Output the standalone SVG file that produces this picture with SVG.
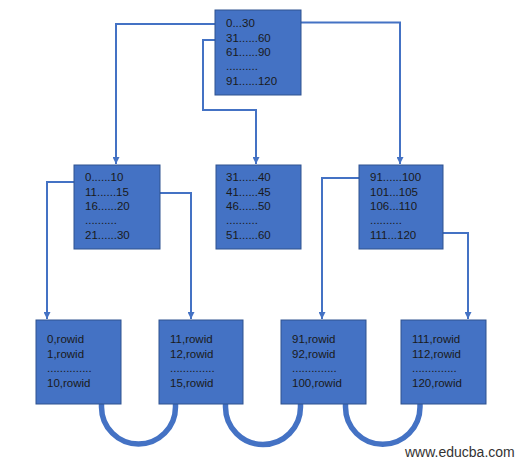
<svg xmlns="http://www.w3.org/2000/svg" width="528" height="466" viewBox="0 0 528 466">
<style>
.box{fill:#4472C4;stroke:#2F528F;stroke-width:1}
.t{font-family:"Liberation Sans",Arial,sans-serif;font-size:11.5px;fill:#1a1a1a}
.c{fill:none;stroke:#4472C4;stroke-width:2}
.arc{fill:none;stroke:#4472C4;stroke-width:5.5}
.wm{font-family:"Liberation Sans",Arial,sans-serif;font-size:14px;fill:#333}
</style>
<defs>
<marker id="ah" viewBox="0 0 6 6" refX="6" refY="3" markerWidth="3.5" markerHeight="3.5" orient="auto" markerUnits="strokeWidth">
<path d="M0,0 L6,3 L0,6 z" fill="#4472C4"/>
</marker>
</defs>
<g id="connectors">
<path class="c" d="M215,24 H116 V164" marker-end="url(#ah)"/>
<path class="c" d="M215,40 H203 V110 H256 V164" marker-end="url(#ah)"/>
<path class="c" d="M301,22.5 H400 V164" marker-end="url(#ah)"/>
<path class="c" d="M74,182 H47 V319" marker-end="url(#ah)"/>
<path class="c" d="M160,193 H191 V319" marker-end="url(#ah)"/>
<path class="c" d="M359,178 H322 V319" marker-end="url(#ah)"/>
<path class="c" d="M443,233 H468 V319" marker-end="url(#ah)"/>
<path class="arc" d="M101.5,404 v3 a37,37 0 0 0 74,0 v-3"/>
<path class="arc" d="M225.5,404 v3 a37.5,37.5 0 0 0 75,0 v-3"/>
<path class="arc" d="M345.5,404 v3 a37.25,37.25 0 0 0 74.5,0 v-3"/>
</g>
<g id="root">
<rect class="box" x="215" y="10" width="86" height="85"/>
<text class="t" x="226" y="27">0...30</text>
<text class="t" x="226" y="42">31......60</text>
<text class="t" x="226" y="56">61......90</text>
<text class="t" x="226" y="70">..........</text>
<text class="t" x="226" y="85">91......120</text>
</g>
<g id="mid-left">
<rect class="box" x="74" y="165" width="86" height="84"/>
<text class="t" x="85" y="181">0......10</text>
<text class="t" x="85" y="196">11......15</text>
<text class="t" x="85" y="210">16......20</text>
<text class="t" x="85" y="224">..........</text>
<text class="t" x="85" y="239">21......30</text>
</g>
<g id="mid-center">
<rect class="box" x="216" y="165" width="85" height="84"/>
<text class="t" x="226" y="181">31......40</text>
<text class="t" x="226" y="196">41......45</text>
<text class="t" x="226" y="210">46......50</text>
<text class="t" x="226" y="224">..........</text>
<text class="t" x="226" y="239">51......60</text>
</g>
<g id="mid-right">
<rect class="box" x="359" y="165" width="84" height="84"/>
<text class="t" x="370" y="181">91......100</text>
<text class="t" x="370" y="196">101...105</text>
<text class="t" x="370" y="210">106...110</text>
<text class="t" x="370" y="224">..........</text>
<text class="t" x="370" y="239">111...120</text>
</g>
<g id="leaf1">
<rect class="box" x="36" y="320" width="85" height="84"/>
<text class="t" x="47" y="343">0,rowid</text>
<text class="t" x="47" y="358">1,rowid</text>
<text class="t" x="47" y="372" font-size="8">..............</text>
<text class="t" x="47" y="387">10,rowid</text>
</g>
<g id="leaf2">
<rect class="box" x="159" y="320" width="84" height="84"/>
<text class="t" x="170" y="343">11,rowid</text>
<text class="t" x="170" y="358">12,rowid</text>
<text class="t" x="170" y="372" font-size="8">..............</text>
<text class="t" x="170" y="387">15,rowid</text>
</g>
<g id="leaf3">
<rect class="box" x="281" y="320" width="85" height="84"/>
<text class="t" x="292" y="343">91,rowid</text>
<text class="t" x="292" y="358">92,rowid</text>
<text class="t" x="292" y="372" font-size="8">..............</text>
<text class="t" x="292" y="387">100,rowid</text>
</g>
<g id="leaf4">
<rect class="box" x="401" y="320" width="85" height="84"/>
<text class="t" x="412" y="343">111,rowid</text>
<text class="t" x="412" y="358">112,rowid</text>
<text class="t" x="412" y="372" font-size="8">..............</text>
<text class="t" x="412" y="387">120,rowid</text>
</g>
<text class="wm" x="405" y="457">www.educba.com</text>
</svg>
